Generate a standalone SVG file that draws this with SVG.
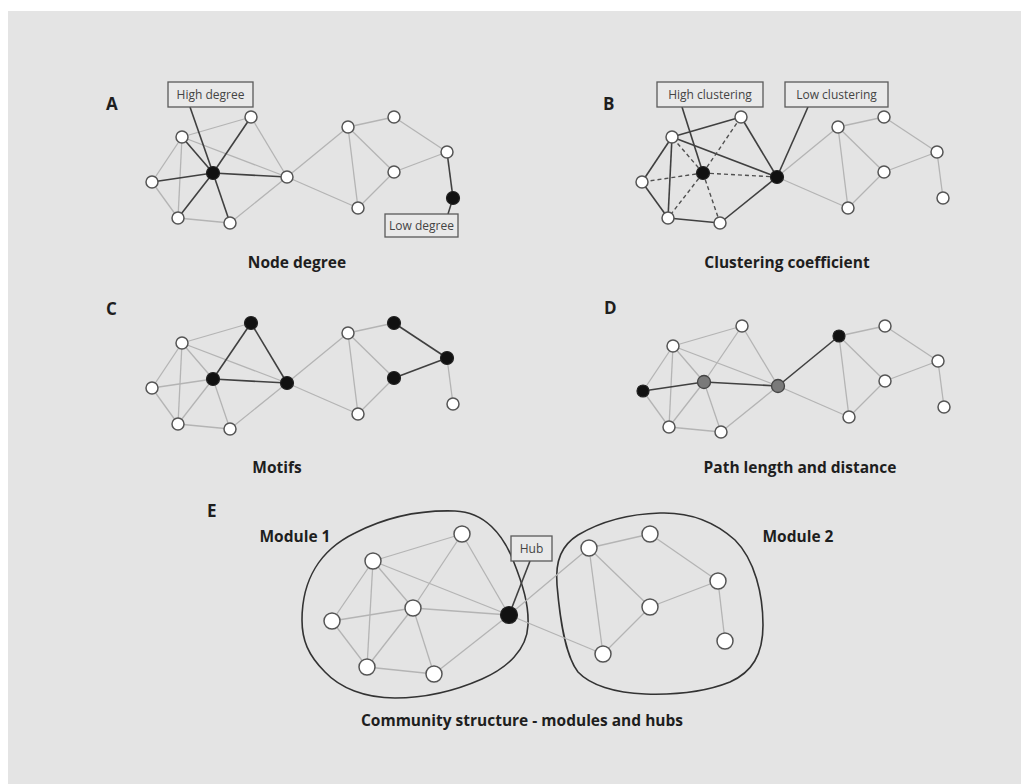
<svg xmlns="http://www.w3.org/2000/svg" xmlns:xlink="http://www.w3.org/1999/xlink" width="1021" height="784" viewBox="0 0 1021 784">
  <style>
    .bg { fill: #e4e4e4; }
    .lt { stroke: #b4b4b4; stroke-width: 1.3; fill: none; }
    .dk { stroke: #404040; stroke-width: 1.6; fill: none; }
    .ds { stroke: #505050; stroke-width: 1.4; stroke-dasharray: 4 3; fill: none; }
    .nw { fill: #ffffff; stroke: #555555; stroke-width: 1.5; }
    .nb { fill: #111111; stroke: #222222; stroke-width: 1.2; }
    .ng { fill: #7a7a7a; stroke: #444444; stroke-width: 1.3; }
    .box { fill: #e9e9e9; stroke: #5a5a5a; stroke-width: 1.3; }
    .blob { fill: none; stroke: #333333; stroke-width: 1.6; }
    .lbl { font-family: "Open Sans", "Liberation Sans", sans-serif; font-size: 12px; fill: #444444; text-anchor: middle; }
    .cap { font-family: "Open Sans", "Liberation Sans", sans-serif; font-size: 15.5px; font-weight: bold; fill: #1e1e1e; text-anchor: middle; }
    .let { font-family: "Open Sans", "Liberation Sans", sans-serif; font-size: 17px; font-weight: bold; fill: #1e1e1e; }
  </style>

  <rect x="0" y="0" width="1021" height="784" fill="#ffffff"/>
  <rect class="bg" x="8" y="11" width="1013" height="773"/>

  <!-- ===== Panel A : node degree ===== -->
  <g id="panel-a">
    <g id="edges-a">
      <line class="lt" x1="182" y1="137" x2="251" y2="117"/>
      <line class="lt" x1="182" y1="137" x2="152" y2="182"/>
      <line class="lt" x1="182" y1="137" x2="178" y2="218"/>
      <line class="lt" x1="182" y1="137" x2="287" y2="177"/>
      <line class="lt" x1="251" y1="117" x2="287" y2="177"/>
      <line class="lt" x1="152" y1="182" x2="178" y2="218"/>
      <line class="lt" x1="178" y1="218" x2="230" y2="223"/>
      <line class="lt" x1="230" y1="223" x2="287" y2="177"/>
      <line class="lt" x1="287" y1="177" x2="348" y2="127"/>
      <line class="lt" x1="287" y1="177" x2="358" y2="208"/>
      <line class="lt" x1="348" y1="127" x2="394" y2="117"/>
      <line class="lt" x1="348" y1="127" x2="394" y2="172"/>
      <line class="lt" x1="348" y1="127" x2="358" y2="208"/>
      <line class="lt" x1="394" y1="117" x2="447" y2="152"/>
      <line class="lt" x1="447" y1="152" x2="394" y2="172"/>
      <line class="lt" x1="394" y1="172" x2="358" y2="208"/>
      <line class="dk" x1="213" y1="173" x2="182" y2="137"/>
      <line class="dk" x1="213" y1="173" x2="251" y2="117"/>
      <line class="dk" x1="213" y1="173" x2="152" y2="182"/>
      <line class="dk" x1="213" y1="173" x2="178" y2="218"/>
      <line class="dk" x1="213" y1="173" x2="230" y2="223"/>
      <line class="dk" x1="213" y1="173" x2="287" y2="177"/>
      <line class="dk" x1="447" y1="152" x2="453" y2="198"/>
      <line class="dk" x1="190" y1="107" x2="213" y2="173"/>
      <line class="dk" x1="448" y1="214" x2="453" y2="198"/>
    </g>
    <g id="nodes-a">
      <circle class="nw" cx="182" cy="137" r="6"/>
      <circle class="nw" cx="251" cy="117" r="6"/>
      <circle class="nw" cx="152" cy="182" r="6"/>
      <circle class="nw" cx="178" cy="218" r="6"/>
      <circle class="nw" cx="230" cy="223" r="6"/>
      <circle class="nw" cx="287" cy="177" r="6"/>
      <circle class="nw" cx="348" cy="127" r="6"/>
      <circle class="nw" cx="394" cy="117" r="6"/>
      <circle class="nw" cx="447" cy="152" r="6"/>
      <circle class="nw" cx="394" cy="172" r="6"/>
      <circle class="nw" cx="358" cy="208" r="6"/>
      <circle class="nb" cx="213" cy="173" r="6.5"/>
      <circle class="nb" cx="453" cy="198" r="6.5"/>
    </g>
    <g id="label-high-degree">
      <rect class="box" x="168" y="82" width="85" height="25"/>
      <text class="lbl" x="210.5" y="99">High degree</text>
    </g>
    <g id="label-low-degree">
      <rect class="box" x="385" y="214" width="73" height="23"/>
      <text class="lbl" x="421.5" y="230">Low degree</text>
    </g>
    <text class="let" x="106" y="110">A</text>
    <text class="cap" x="297" y="268">Node degree</text>
  </g>

  <!-- ===== Panel B : clustering coefficient ===== -->
  <g id="panel-b">
    <g id="edges-b" transform="translate(490,0)">
      <line class="lt" x1="287" y1="177" x2="348" y2="127"/>
      <line class="lt" x1="287" y1="177" x2="358" y2="208"/>
      <line class="lt" x1="348" y1="127" x2="394" y2="117"/>
      <line class="lt" x1="348" y1="127" x2="394" y2="172"/>
      <line class="lt" x1="348" y1="127" x2="358" y2="208"/>
      <line class="lt" x1="394" y1="117" x2="447" y2="152"/>
      <line class="lt" x1="447" y1="152" x2="394" y2="172"/>
      <line class="lt" x1="394" y1="172" x2="358" y2="208"/>
      <line class="lt" x1="447" y1="152" x2="453" y2="198"/>
      <line class="dk" x1="182" y1="137" x2="251" y2="117"/>
      <line class="dk" x1="182" y1="137" x2="152" y2="182"/>
      <line class="dk" x1="182" y1="137" x2="178" y2="218"/>
      <line class="dk" x1="182" y1="137" x2="287" y2="177"/>
      <line class="dk" x1="251" y1="117" x2="287" y2="177"/>
      <line class="dk" x1="152" y1="182" x2="178" y2="218"/>
      <line class="dk" x1="178" y1="218" x2="230" y2="223"/>
      <line class="dk" x1="230" y1="223" x2="287" y2="177"/>
      <line class="ds" x1="213" y1="173" x2="182" y2="137"/>
      <line class="ds" x1="213" y1="173" x2="251" y2="117"/>
      <line class="ds" x1="213" y1="173" x2="152" y2="182"/>
      <line class="ds" x1="213" y1="173" x2="178" y2="218"/>
      <line class="ds" x1="213" y1="173" x2="230" y2="223"/>
      <line class="ds" x1="213" y1="173" x2="287" y2="177"/>
      <line class="dk" x1="192" y1="107" x2="213" y2="173"/>
      <line class="dk" x1="318" y1="107" x2="287" y2="177"/>
    </g>
    <g id="nodes-b" transform="translate(490,0)">
      <circle class="nw" cx="182" cy="137" r="6"/>
      <circle class="nw" cx="251" cy="117" r="6"/>
      <circle class="nw" cx="152" cy="182" r="6"/>
      <circle class="nw" cx="178" cy="218" r="6"/>
      <circle class="nw" cx="230" cy="223" r="6"/>
      <circle class="nw" cx="348" cy="127" r="6"/>
      <circle class="nw" cx="394" cy="117" r="6"/>
      <circle class="nw" cx="447" cy="152" r="6"/>
      <circle class="nw" cx="394" cy="172" r="6"/>
      <circle class="nw" cx="358" cy="208" r="6"/>
      <circle class="nw" cx="453" cy="198" r="6"/>
      <circle class="nb" cx="213" cy="173" r="6.5"/>
      <circle class="nb" cx="287" cy="177" r="6.5"/>
    </g>
    <g id="label-high-clustering">
      <rect class="box" x="657" y="82" width="106" height="25"/>
      <text class="lbl" x="710" y="99">High clustering</text>
    </g>
    <g id="label-low-clustering">
      <rect class="box" x="785" y="82" width="103" height="25"/>
      <text class="lbl" x="836.5" y="99">Low clustering</text>
    </g>
    <text class="let" x="603" y="110">B</text>
    <text class="cap" x="787" y="268">Clustering coefficient</text>
  </g>

  <!-- ===== Panel C : motifs ===== -->
  <g id="panel-c">
    <g id="edges-c" transform="translate(0,206)">
      <line class="lt" x1="213" y1="173" x2="182" y2="137"/>
      <line class="lt" x1="213" y1="173" x2="152" y2="182"/>
      <line class="lt" x1="213" y1="173" x2="178" y2="218"/>
      <line class="lt" x1="213" y1="173" x2="230" y2="223"/>
      <line class="lt" x1="182" y1="137" x2="251" y2="117"/>
      <line class="lt" x1="182" y1="137" x2="152" y2="182"/>
      <line class="lt" x1="182" y1="137" x2="178" y2="218"/>
      <line class="lt" x1="182" y1="137" x2="287" y2="177"/>
      <line class="lt" x1="152" y1="182" x2="178" y2="218"/>
      <line class="lt" x1="178" y1="218" x2="230" y2="223"/>
      <line class="lt" x1="230" y1="223" x2="287" y2="177"/>
      <line class="lt" x1="287" y1="177" x2="348" y2="127"/>
      <line class="lt" x1="287" y1="177" x2="358" y2="208"/>
      <line class="lt" x1="348" y1="127" x2="394" y2="117"/>
      <line class="lt" x1="348" y1="127" x2="394" y2="172"/>
      <line class="lt" x1="348" y1="127" x2="358" y2="208"/>
      <line class="lt" x1="394" y1="172" x2="358" y2="208"/>
      <line class="lt" x1="447" y1="152" x2="453" y2="198"/>
      <line class="dk" x1="251" y1="117" x2="213" y2="173"/>
      <line class="dk" x1="251" y1="117" x2="287" y2="177"/>
      <line class="dk" x1="213" y1="173" x2="287" y2="177"/>
      <line class="dk" x1="394" y1="117" x2="447" y2="152"/>
      <line class="dk" x1="447" y1="152" x2="394" y2="172"/>
    </g>
    <g id="nodes-c" transform="translate(0,206)">
      <circle class="nw" cx="182" cy="137" r="6"/>
      <circle class="nw" cx="152" cy="182" r="6"/>
      <circle class="nw" cx="178" cy="218" r="6"/>
      <circle class="nw" cx="230" cy="223" r="6"/>
      <circle class="nw" cx="348" cy="127" r="6"/>
      <circle class="nw" cx="358" cy="208" r="6"/>
      <circle class="nw" cx="453" cy="198" r="6"/>
      <circle class="nb" cx="251" cy="117" r="6.5"/>
      <circle class="nb" cx="213" cy="173" r="6.5"/>
      <circle class="nb" cx="287" cy="177" r="6.5"/>
      <circle class="nb" cx="394" cy="117" r="6.5"/>
      <circle class="nb" cx="447" cy="152" r="6.5"/>
      <circle class="nb" cx="394" cy="172" r="6.5"/>
    </g>
    <text class="let" x="106" y="315">C</text>
    <text class="cap" x="277" y="473">Motifs</text>
  </g>

  <!-- ===== Panel D : path length and distance ===== -->
  <g id="panel-d">
    <g id="edges-d" transform="translate(491,209)">
      <line class="lt" x1="213" y1="173" x2="182" y2="137"/>
      <line class="lt" x1="213" y1="173" x2="251" y2="117"/>
      <line class="lt" x1="213" y1="173" x2="178" y2="218"/>
      <line class="lt" x1="213" y1="173" x2="230" y2="223"/>
      <line class="lt" x1="182" y1="137" x2="251" y2="117"/>
      <line class="lt" x1="182" y1="137" x2="152" y2="182"/>
      <line class="lt" x1="182" y1="137" x2="178" y2="218"/>
      <line class="lt" x1="182" y1="137" x2="287" y2="177"/>
      <line class="lt" x1="251" y1="117" x2="287" y2="177"/>
      <line class="lt" x1="152" y1="182" x2="178" y2="218"/>
      <line class="lt" x1="178" y1="218" x2="230" y2="223"/>
      <line class="lt" x1="230" y1="223" x2="287" y2="177"/>
      <line class="lt" x1="287" y1="177" x2="358" y2="208"/>
      <line class="lt" x1="348" y1="127" x2="394" y2="117"/>
      <line class="lt" x1="348" y1="127" x2="394" y2="172"/>
      <line class="lt" x1="348" y1="127" x2="358" y2="208"/>
      <line class="lt" x1="394" y1="117" x2="447" y2="152"/>
      <line class="lt" x1="447" y1="152" x2="394" y2="172"/>
      <line class="lt" x1="394" y1="172" x2="358" y2="208"/>
      <line class="lt" x1="447" y1="152" x2="453" y2="198"/>
      <line class="dk" x1="152" y1="182" x2="213" y2="173"/>
      <line class="dk" x1="213" y1="173" x2="287" y2="177"/>
      <line class="dk" x1="287" y1="177" x2="348" y2="127"/>
    </g>
    <g id="nodes-d" transform="translate(491,209)">
      <circle class="nw" cx="182" cy="137" r="6"/>
      <circle class="nw" cx="251" cy="117" r="6"/>
      <circle class="nw" cx="178" cy="218" r="6"/>
      <circle class="nw" cx="230" cy="223" r="6"/>
      <circle class="nw" cx="394" cy="117" r="6"/>
      <circle class="nw" cx="447" cy="152" r="6"/>
      <circle class="nw" cx="394" cy="172" r="6"/>
      <circle class="nw" cx="358" cy="208" r="6"/>
      <circle class="nw" cx="453" cy="198" r="6"/>
      <circle class="nb" cx="152" cy="182" r="6"/>
      <circle class="nb" cx="348" cy="127" r="6"/>
      <circle class="ng" cx="213" cy="173" r="6.5"/>
      <circle class="ng" cx="287" cy="177" r="6.5"/>
    </g>
    <text class="let" x="604" y="314">D</text>
    <text class="cap" x="800" y="473">Path length and distance</text>
  </g>

  <!-- ===== Panel E : community structure ===== -->
  <g id="panel-e">
    <g id="modules">
      <path id="module-1" class="blob" d="M302,620 C302,580 320,550 355,533 C390,515 425,510 455,511 C485,512 503,535 513,560 C523,585 529,605 528,625 C527,650 507,668 482,679 C457,690 425,698 395,698 C365,698 340,688 325,672 C308,655 302,640 302,620 Z"/>
      <path id="module-2" class="blob" d="M557,585 C555,560 562,545 578,535 C600,522 625,514 660,513 C690,512 715,522 735,540 C755,560 763,595 763,625 C763,655 752,672 730,682 C705,692 675,695 645,694 C615,693 590,685 578,672 C565,655 560,620 557,585 Z"/>
    </g>
    <g id="edges-e">
      <line class="lt" x1="373" y1="561" x2="462" y2="534"/>
      <line class="lt" x1="373" y1="561" x2="332" y2="621"/>
      <line class="lt" x1="373" y1="561" x2="367" y2="667"/>
      <line class="lt" x1="373" y1="561" x2="413" y2="608"/>
      <line class="lt" x1="373" y1="561" x2="509" y2="615"/>
      <line class="lt" x1="462" y1="534" x2="413" y2="608"/>
      <line class="lt" x1="462" y1="534" x2="509" y2="615"/>
      <line class="lt" x1="332" y1="621" x2="413" y2="608"/>
      <line class="lt" x1="332" y1="621" x2="367" y2="667"/>
      <line class="lt" x1="413" y1="608" x2="509" y2="615"/>
      <line class="lt" x1="413" y1="608" x2="367" y2="667"/>
      <line class="lt" x1="413" y1="608" x2="434" y2="674"/>
      <line class="lt" x1="367" y1="667" x2="434" y2="674"/>
      <line class="lt" x1="434" y1="674" x2="509" y2="615"/>
      <line class="lt" x1="509" y1="615" x2="589" y2="548"/>
      <line class="lt" x1="509" y1="615" x2="603" y2="654"/>
      <line class="lt" x1="589" y1="548" x2="650" y2="534"/>
      <line class="lt" x1="589" y1="548" x2="650" y2="607"/>
      <line class="lt" x1="589" y1="548" x2="603" y2="654"/>
      <line class="lt" x1="650" y1="534" x2="718" y2="581"/>
      <line class="lt" x1="718" y1="581" x2="650" y2="607"/>
      <line class="lt" x1="650" y1="607" x2="603" y2="654"/>
      <line class="lt" x1="718" y1="581" x2="725" y2="641"/>
      <line class="dk" x1="530" y1="561" x2="509" y2="615"/>
    </g>
    <g id="nodes-e">
      <circle class="nw" cx="373" cy="561" r="8"/>
      <circle class="nw" cx="462" cy="534" r="8"/>
      <circle class="nw" cx="332" cy="621" r="8"/>
      <circle class="nw" cx="413" cy="608" r="8"/>
      <circle class="nw" cx="367" cy="667" r="8"/>
      <circle class="nw" cx="434" cy="674" r="8"/>
      <circle class="nw" cx="589" cy="548" r="8"/>
      <circle class="nw" cx="650" cy="534" r="8"/>
      <circle class="nw" cx="718" cy="581" r="8"/>
      <circle class="nw" cx="650" cy="607" r="8"/>
      <circle class="nw" cx="725" cy="641" r="8"/>
      <circle class="nw" cx="603" cy="654" r="8"/>
      <circle class="nb" cx="509" cy="615" r="8.5"/>
    </g>
    <g id="label-hub">
      <rect class="box" x="511" y="536" width="41" height="25"/>
      <text class="lbl" x="531.5" y="553">Hub</text>
    </g>
    <text class="let" x="207" y="517">E</text>
    <text class="cap" x="295" y="542">Module 1</text>
    <text class="cap" x="798" y="542">Module 2</text>
    <text class="cap" x="522" y="726">Community structure - modules and hubs</text>
  </g>
</svg>
